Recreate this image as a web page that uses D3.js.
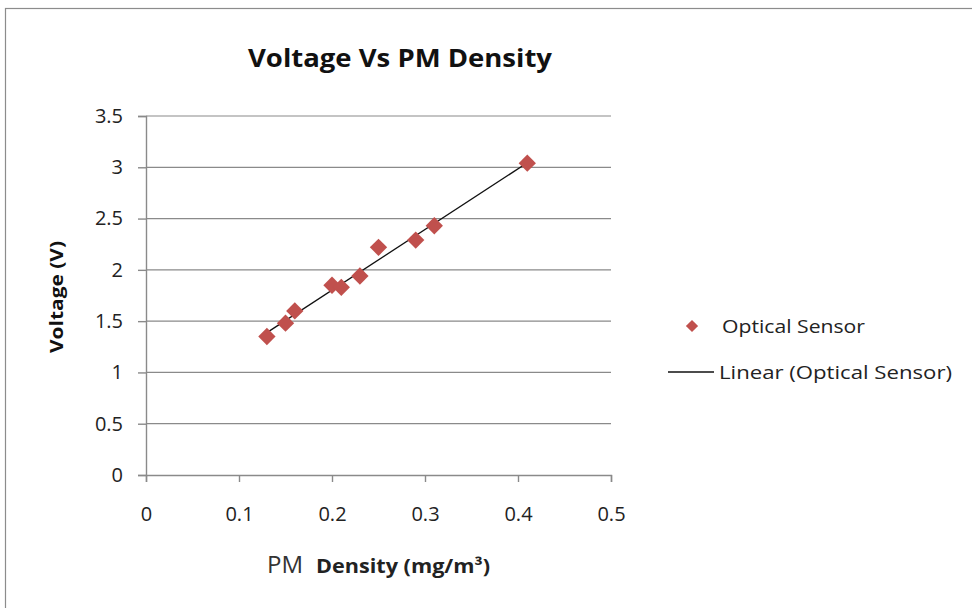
<!DOCTYPE html>
<html>
<head>
<meta charset="utf-8">
<script src="https://cdn.jsdelivr.net/npm/d3@7"></script>
<style>
  body { margin: 0; background: #fff; }
  svg { font-family: "Open Sans", "DejaVu Sans", sans-serif; }
</style>
</head>
<body>
<div id="chart"></div>
<script>
// Data
var density = [0.13, 0.15, 0.16, 0.20, 0.21, 0.23, 0.25, 0.29, 0.31, 0.41];
var voltage = [1.35, 1.48, 1.60, 1.85, 1.83, 1.94, 2.22, 2.29, 2.43, 3.04];
var xTicks = [0, 0.1, 0.2, 0.3, 0.4, 0.5];
var yTicks = [0, 0.5, 1, 1.5, 2, 2.5, 3, 3.5];
var seriesName = "Optical Sensor";
var trendName = "Linear (Optical Sensor)";

var svgWidth = 972, svgHeight = 608;
var margin = { top: 116, left: 146, right: 361, bottom: 133 };
var chartWidth = svgWidth - margin.left - margin.right;
var chartHeight = svgHeight - margin.top - margin.bottom;

var svg = d3.select("#chart").append("svg")
  .attr("width", svgWidth)
  .attr("height", svgHeight);

// outer chart border
svg.append("rect")
  .attr("x", 5.5).attr("y", 8.5)
  .attr("width", 980).attr("height", 620)
  .attr("fill", "none")
  .attr("stroke", "#8c8c8c")
  .attr("stroke-width", 1.2);

var chartGroup = svg.append("g")
  .attr("transform", `translate(${margin.left}, ${margin.top})`);

var xScale = d3.scaleLinear().domain([0, 0.5]).range([0, chartWidth]);
var yScale = d3.scaleLinear().domain([0, 3.5]).range([chartHeight, 0]);

// gridlines
chartGroup.append("g")
  .selectAll("line")
  .data(yTicks.filter(d => d > 0))
  .enter()
  .append("line")
  .attr("x1", 0).attr("x2", chartWidth)
  .attr("y1", d => yScale(d)).attr("y2", d => yScale(d))
  .attr("stroke", "#8a8a8a")
  .attr("stroke-width", 1.2);

// axes
var bottomAxis = d3.axisBottom(xScale).tickValues(xTicks).tickSize(7).tickPadding(25)
  .tickFormat(d => d3.format("")(d));
var leftAxis = d3.axisLeft(yScale).tickValues(yTicks).tickSize(8).tickPadding(15)
  .tickFormat(d => d3.format("")(d));

var xAxis = chartGroup.append("g")
  .attr("transform", `translate(0, ${chartHeight})`)
  .call(bottomAxis);
var yAxis = chartGroup.append("g").call(leftAxis);

[xAxis, yAxis].forEach(function(ax) {
  ax.attr("font-size", null).attr("font-family", null);
  ax.select(".domain").attr("stroke", "#8a8a8a").attr("stroke-width", 1.4);
  ax.selectAll(".tick line").attr("stroke", "#8a8a8a").attr("stroke-width", 1.4);
  ax.selectAll(".tick text")
    .attr("fill", "#222")
    .style("font-size", "20px");
});

// trendline (least squares over the points)
var mx = d3.mean(density), my = d3.mean(voltage);
var sxy = d3.sum(density, (d, i) => (d - mx) * (voltage[i] - my));
var sxx = d3.sum(density, d => (d - mx) * (d - mx));
var slope = sxy / sxx, intercept = my - slope * mx;
var xMin = d3.min(density), xMax = d3.max(density);

chartGroup.append("line")
  .attr("x1", xScale(xMin)).attr("y1", yScale(intercept + slope * xMin))
  .attr("x2", xScale(xMax)).attr("y2", yScale(intercept + slope * xMax))
  .attr("stroke", "#111")
  .attr("stroke-width", 1.3);

// markers
var diamond = d3.symbol().type(d3.symbolSquare).size(150);
chartGroup.append("g")
  .selectAll("path")
  .data(density)
  .enter()
  .append("path")
  .attr("d", diamond)
  .attr("transform", (d, i) => `translate(${xScale(d)}, ${yScale(voltage[i])}) rotate(45)`)
  .attr("fill", "#c0504d");

// title
svg.append("text")
  .attr("x", 400).attr("y", 67)
  .attr("text-anchor", "middle")
  .style("font-size", "25px")
  .style("font-weight", "bold")
  .attr("fill", "#111")
  .attr("textLength", 304)
  .attr("lengthAdjust", "spacingAndGlyphs")
  .text("Voltage Vs PM Density");

// x axis title
var xTitle = svg.append("text")
  .attr("x", 267).attr("y", 573)
  .attr("fill", "#222");
xTitle.append("tspan")
  .style("font-size", "24px")
  .attr("fill", "#333")
  .text("PM");
xTitle.append("tspan")
  .attr("x", 316)
  .style("font-size", "19px")
  .style("font-weight", "bold")
  .attr("textLength", 174)
  .attr("lengthAdjust", "spacingAndGlyphs")
  .text("Density  (mg/m³)");

// y axis title
svg.append("text")
  .attr("transform", "translate(63, 297) rotate(-90)")
  .attr("text-anchor", "middle")
  .style("font-size", "17px")
  .style("font-weight", "bold")
  .attr("fill", "#111")
  .attr("textLength", 112)
  .attr("lengthAdjust", "spacingAndGlyphs")
  .text("Voltage  (V)");

// legend
var legend = svg.append("g");
legend.append("path")
  .attr("d", d3.symbol().type(d3.symbolSquare).size(75))
  .attr("transform", "translate(692, 326) rotate(45)")
  .attr("fill", "#c0504d");
legend.append("text")
  .attr("x", 722).attr("y", 333)
  .style("font-size", "19px")
  .attr("fill", "#222")
  .attr("textLength", 143)
  .attr("lengthAdjust", "spacingAndGlyphs")
  .text(seriesName);
legend.append("line")
  .attr("x1", 668).attr("x2", 714)
  .attr("y1", 372).attr("y2", 372)
  .attr("stroke", "#111")
  .attr("stroke-width", 1.3);
legend.append("text")
  .attr("x", 719).attr("y", 379)
  .style("font-size", "19px")
  .attr("fill", "#222")
  .attr("textLength", 233)
  .attr("lengthAdjust", "spacingAndGlyphs")
  .text(trendName);
</script>
</body>
</html>
